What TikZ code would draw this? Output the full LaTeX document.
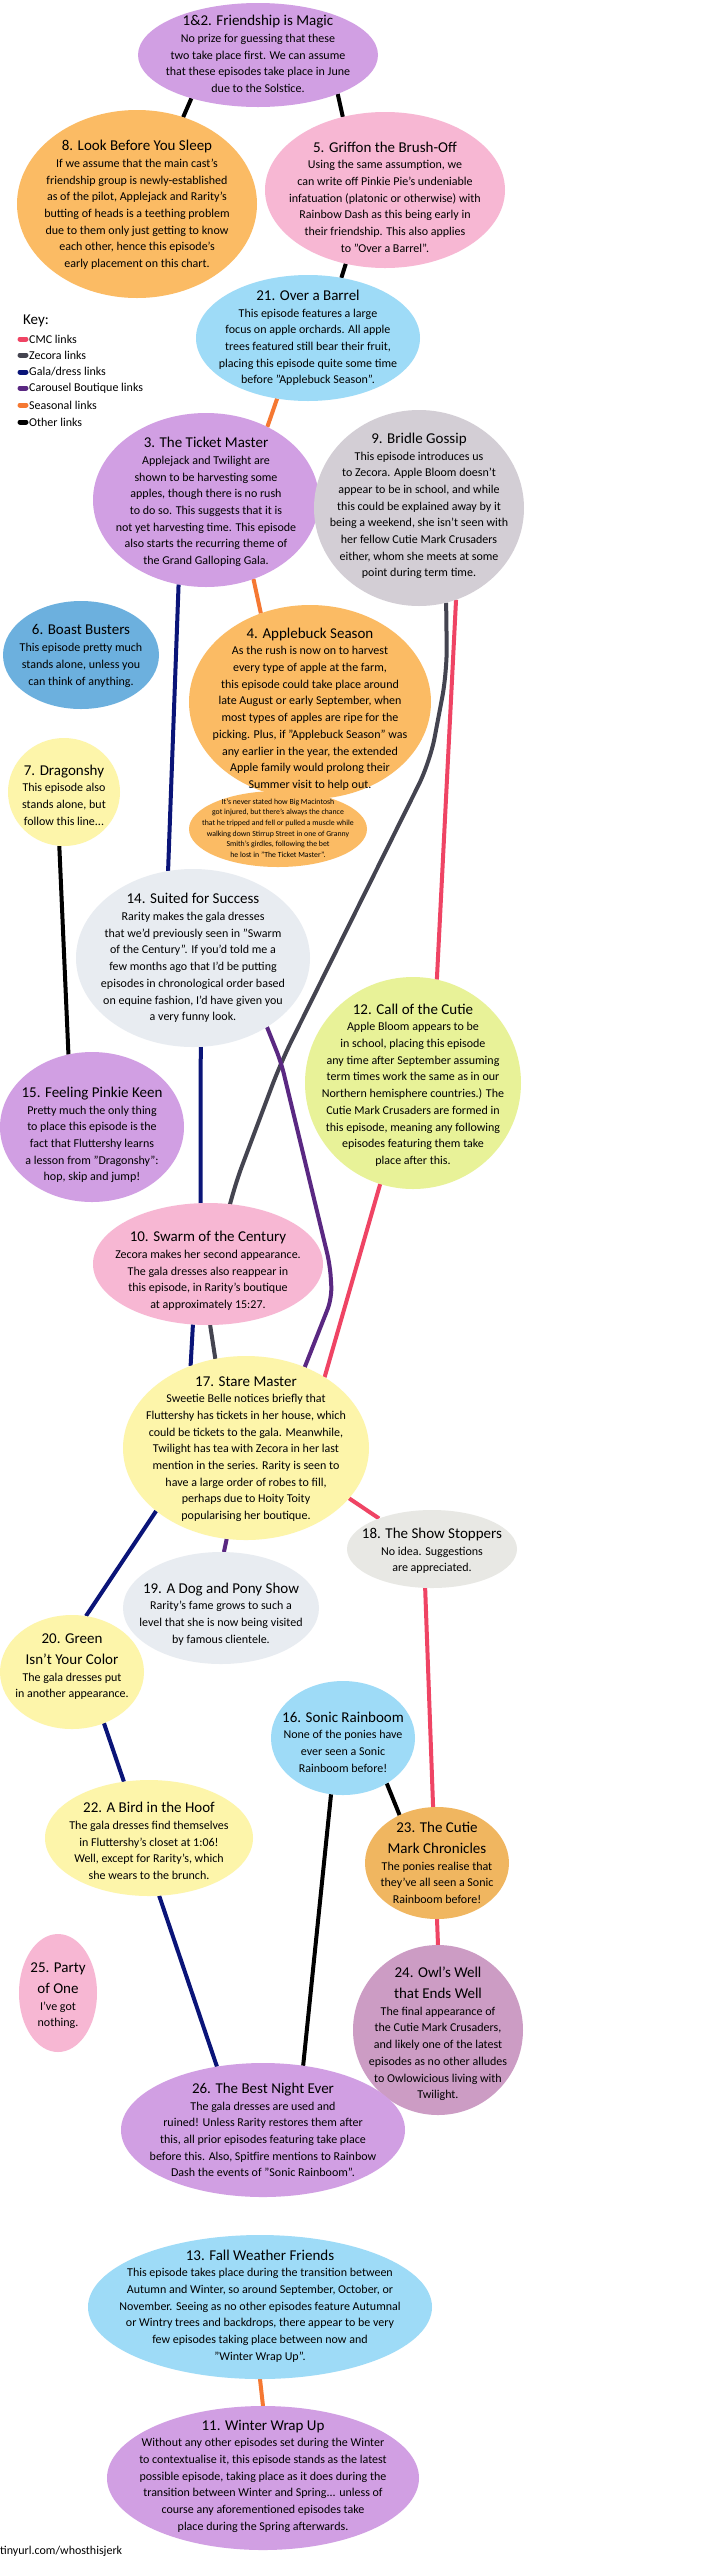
\documentclass[tikz,border=0pt]{standalone}
\usepackage{fontspec}
\setmainfont{Carlito}
\usetikzlibrary{shapes.geometric,backgrounds}

\definecolor{lilac}{HTML}{D19FE3}
\definecolor{peach}{HTML}{FBBB64}
\definecolor{candy}{HTML}{F7B7D3}
\definecolor{sky}{HTML}{9EDBF7}
\definecolor{smoke}{HTML}{D3CED5}
\definecolor{denim}{HTML}{6CB0DE}
\definecolor{butter}{HTML}{FDF5AA}
\definecolor{silver}{HTML}{E8ECF1}
\definecolor{lime}{HTML}{E8F298}
\definecolor{ash}{HTML}{E8E8E4}
\definecolor{amber}{HTML}{F0B660}
\definecolor{mauve}{HTML}{CC9CC4}
\definecolor{cmcred}{HTML}{EF4464}
\definecolor{zecgray}{HTML}{444450}
\definecolor{galablue}{HTML}{0A1478}
\definecolor{shoppurple}{HTML}{5A2882}
\definecolor{seasonorange}{HTML}{F57832}

\tikzset{
  bubble/.style={ellipse, inner sep=0pt, outer sep=0pt},
  words/.style={align=center, inner sep=0pt, font=\fontsize{12}{16.7}\selectfont},
  aside/.style={align=center, inner sep=0pt, font=\fontsize{7.8}{10.6}\selectfont},
  keyword/.style={anchor=west, inner sep=0pt, font=\fontsize{12}{14}\selectfont},
  link/.style={line width=4pt},
  cmc/.style={link, draw=cmcred},
  zec/.style={link, draw=zecgray},
  gala/.style={link, draw=galablue},
  shop/.style={link, draw=shoppurple},
  season/.style={link, draw=seasonorange},
  other/.style={link, draw=black},
  swatch/.style={line width=5pt, line cap=round},
}
\newcommand{\ttl}[1]{{\fontsize{15}{20}\selectfont #1}}

\begin{document}
\begin{tikzpicture}[x=1pt,y=-1pt]
\useasboundingbox (0,0) rectangle (720,2560);

% episode bubbles
\node[bubble, fill=lilac, minimum width=240pt, minimum height=104pt] (magic) at (258,55) {};
\node[words] (tmagic) at (258,54) {\ttl{1\&2. Friendship is Magic}\\No prize for guessing that these\\two take place first. We can assume\\that these episodes take place in June\\due to the Solstice.};

\node[bubble, fill=peach, minimum width=240pt, minimum height=188pt] (sleep) at (137,204) {};
\node[words] (tsleep) at (137,205) {\ttl{8. Look Before You Sleep}\\If we assume that the main cast's\\friendship group is newly-established\\as of the pilot, Applejack and Rarity's\\butting of heads is a teething problem\\due to them only just getting to know\\each other, hence this episode's\\early placement on this chart.};

\node[bubble, fill=candy, minimum width=240pt, minimum height=156pt] (griffon) at (385,190) {};
\node[words] (tgriffon) at (385,197) {\ttl{5. Griffon the Brush-Off}\\Using the same assumption, we\\can write off Pinkie Pie's undeniable\\infatuation (platonic or otherwise) with\\Rainbow Dash as this being early in\\their friendship. This also applies\\to "Over a Barrel".};

\node[bubble, fill=sky, minimum width=224pt, minimum height=126pt] (barrel) at (308,338) {};
\node[words] (tbarrel) at (308,338) {\ttl{21. Over a Barrel}\\This episode features a large\\focus on apple orchards. All apple\\trees featured still bear their fruit,\\placing this episode quite some time\\before "Applebuck Season".};

\node[bubble, fill=lilac, minimum width=226pt, minimum height=174pt] (ticket) at (206,500) {};
\node[words] (tticket) at (206,502) {\ttl{3. The Ticket Master}\\Applejack and Twilight are\\shown to be harvesting some\\apples, though there is no rush\\to do so. This suggests that it is\\not yet harvesting time. This episode\\also starts the recurring theme of\\the Grand Galloping Gala.};

\node[bubble, fill=smoke, minimum width=210pt, minimum height=196pt] (gossip) at (419,508) {};
\node[words] (tgossip) at (419,506) {\ttl{9. Bridle Gossip}\\This episode introduces us\\to Zecora. Apple Bloom doesn't\\appear to be in school, and while\\this could be explained away by it\\being a weekend, she isn't seen with\\her fellow Cutie Mark Crusaders\\either, whom she meets at some\\point during term time.};

\node[bubble, fill=denim, minimum width=156pt, minimum height=108pt] (boast) at (81,655) {};
\node[words] (tboast) at (81,656) {\ttl{6. Boast Busters}\\This episode pretty much\\stands alone, unless you\\can think of anything.};

\node[bubble, fill=peach, minimum width=242pt, minimum height=194pt] (applebuck) at (310,702) {};
\node[bubble, fill=peach, minimum width=178pt, minimum height=76pt] (macintosh) at (278,829) {};
\node[words] (tapplebuck) at (310,709) {\ttl{4. Applebuck Season}\\As the rush is now on to harvest\\every type of apple at the farm,\\this episode could take place around\\late August or early September, when\\most types of apples are ripe for the\\picking. Plus, if "Applebuck Season" was\\any earlier in the year, the extended\\Apple family would prolong their\\Summer visit to help out.};
\node[aside] (tmacintosh) at (278,828) {It's never stated how Big Macintosh\\got injured, but there's always the chance\\that he tripped and fell or pulled a muscle while\\walking down Stirrup Street in one of Granny\\Smith's girdles, following the bet\\he lost in "The Ticket Master".};

\node[bubble, fill=butter, minimum width=112pt, minimum height=108pt] (dragonshy) at (64,792) {};
\node[words] (tdragonshy) at (64,795) {\ttl{7. Dragonshy}\\This episode also\\stands alone, but\\follow this line...};

\node[bubble, fill=silver, minimum width=234pt, minimum height=178pt] (suited) at (193,958) {};
\node[words] (tsuited) at (193,958) {\ttl{14. Suited for Success}\\Rarity makes the gala dresses\\that we'd previously seen in "Swarm\\of the Century". If you'd told me a\\few months ago that I'd be putting\\episodes in chronological order based\\on equine fashion, I'd have given you\\a very funny look.};

\node[bubble, fill=lime, minimum width=216pt, minimum height=212pt] (cutie) at (413,1083) {};
\node[words] (tcutie) at (413,1085) {\ttl{12. Call of the Cutie}\\Apple Bloom appears to be\\in school, placing this episode\\any time after September assuming\\term times work the same as in our\\Northern hemisphere countries.) The\\Cutie Mark Crusaders are formed in\\this episode, meaning any following\\episodes featuring them take\\place after this.};

\node[bubble, fill=lilac, minimum width=184pt, minimum height=150pt] (pinkie) at (92,1127) {};
\node[words] (tpinkie) at (92,1135) {\ttl{15. Feeling Pinkie Keen}\\Pretty much the only thing\\to place this episode is the\\fact that Fluttershy learns\\a lesson from "Dragonshy":\\hop, skip and jump!};

\node[bubble, fill=candy, minimum width=230pt, minimum height=122pt] (swarm) at (208,1264) {};
\node[words] (tswarm) at (208,1271) {\ttl{10. Swarm of the Century}\\Zecora makes her second appearance.\\The gala dresses also reappear in\\this episode, in Rarity's boutique\\at approximately 15:27.};

\node[bubble, fill=butter, minimum width=246pt, minimum height=184pt] (stare) at (246,1448) {};
\node[words] (tstare) at (246,1449) {\ttl{17. Stare Master}\\Sweetie Belle notices briefly that\\Fluttershy has tickets in her house, which\\could be tickets to the gala. Meanwhile,\\Twilight has tea with Zecora in her last\\mention in the series. Rarity is seen to\\have a large order of robes to fill,\\perhaps due to Hoity Toity\\popularising her boutique.};

\node[bubble, fill=ash, minimum width=170pt, minimum height=78pt] (show) at (432,1549) {};
\node[words] (tshow) at (432,1551) {\ttl{18. The Show Stoppers}\\No idea. Suggestions\\are appreciated.};

\node[bubble, fill=silver, minimum width=196pt, minimum height=112pt] (dogpony) at (221,1608) {};
\node[words] (tdogpony) at (221,1614) {\ttl{19. A Dog and Pony Show}\\Rarity's fame grows to such a\\level that she is now being visited\\by famous clientele.};

\node[bubble, fill=butter, minimum width=144pt, minimum height=114pt] (green) at (72,1672) {};
\node[words] (tgreen) at (72,1667) {\ttl{20. Green}\\[4pt]\ttl{Isn't Your Color}\\The gala dresses put\\in another appearance.};

\node[bubble, fill=sky, minimum width=144pt, minimum height=114pt] (sonic) at (343,1738) {};
\node[words] (tsonic) at (343,1742) {\ttl{16. Sonic Rainboom}\\None of the ponies have\\ever seen a Sonic\\Rainboom before!};

\node[bubble, fill=butter, minimum width=208pt, minimum height=116pt] (bird) at (149,1838) {};
\node[words] (tbird) at (149,1841) {\ttl{22. A Bird in the Hoof}\\The gala dresses find themselves\\in Fluttershy's closet at 1:06!\\Well, except for Rarity's, which\\she wears to the brunch.};

\node[bubble, fill=amber, minimum width=144pt, minimum height=112pt] (chronicles) at (437,1863) {};
\node[words] (tchronicles) at (437,1863) {\ttl{23. The Cutie}\\[4pt]\ttl{Mark Chronicles}\\The ponies realise that\\they've all seen a Sonic\\Rainboom before!};

\node[bubble, fill=candy, minimum width=78pt, minimum height=118pt] (party) at (58,1993) {};
\node[words] (tparty) at (58,1996) {\ttl{25. Party}\\[4pt]\ttl{of One}\\I've got\\nothing.};

\node[bubble, fill=mauve, minimum width=170pt, minimum height=170pt] (owl) at (438,2030) {};
\node[words] (towl) at (438,2034) {\ttl{24. Owl's Well}\\[4pt]\ttl{that Ends Well}\\The final appearance of\\the Cutie Mark Crusaders,\\and likely one of the latest\\episodes as no other alludes\\to Owlowicious living with\\Twilight.};

\node[bubble, fill=lilac, minimum width=284pt, minimum height=134pt] (bestnight) at (263,2130) {};
\node[words] (tbestnight) at (263,2130) {\ttl{26. The Best Night Ever}\\The gala dresses are used and\\ruined! Unless Rarity restores them after\\this, all prior episodes featuring take place\\before this. Also, Spitfire mentions to Rainbow\\Dash the events of "Sonic Rainboom".};

\node[bubble, fill=sky, minimum width=344pt, minimum height=144pt] (fall) at (260,2307) {};
\node[words] (tfall) at (260,2306) {\ttl{13. Fall Weather Friends}\\This episode takes place during the transition between\\Autumn and Winter, so around September, October, or\\November. Seeing as no other episodes feature Autumnal\\or Wintry trees and backdrops, there appear to be very\\few episodes taking place between now and\\"Winter Wrap Up".};

\node[bubble, fill=lilac, minimum width=312pt, minimum height=144pt] (winter) at (263,2478) {};
\node[words] (twinter) at (263,2476) {\ttl{11. Winter Wrap Up}\\Without any other episodes set during the Winter\\to contextualise it, this episode stands as the latest\\possible episode, taking place as it does during the\\transition between Winter and Spring... unless of\\course any aforementioned episodes take\\place during the Spring afterwards.};

% key
\node[anchor=west, inner sep=0pt, font=\fontsize{15}{18}\selectfont] (key) at (23,321) {Key:};
\node[keyword] (kcmc) at (29,339) {CMC links};
\node[keyword] (kzec) at (29,355) {Zecora links};
\node[keyword] (kgala) at (29,372) {Gala/dress links};
\node[keyword] (kshop) at (29,388) {Carousel Boutique links};
\node[keyword] (kseason) at (29,405) {Seasonal links};
\node[keyword] (kother) at (29,422) {Other links};
\draw[swatch, cmcred] ([xshift=-9pt]kcmc.west) -- ([xshift=-3pt]kcmc.west);
\draw[swatch, zecgray] ([xshift=-9pt]kzec.west) -- ([xshift=-3pt]kzec.west);
\draw[swatch, galablue] ([xshift=-9pt]kgala.west) -- ([xshift=-3pt]kgala.west);
\draw[swatch, shoppurple] ([xshift=-9pt]kshop.west) -- ([xshift=-3pt]kshop.west);
\draw[swatch, seasonorange] ([xshift=-9pt]kseason.west) -- ([xshift=-3pt]kseason.west);
\draw[swatch, black] ([xshift=-9pt]kother.west) -- ([xshift=-3pt]kother.west);

\node[anchor=west, inner sep=0pt, font=\fontsize{12}{14}\selectfont] (url) at (0,2551) {tinyurl.com/whosthisjerk};

\coordinate (fork) at (281,1062);

% links go under the bubbles
\begin{pgfonlayer}{background}
\fill[white] (0,0) rectangle (720,2560);
\draw[other] (magic.213) -- (sleep.62);
\draw[other] (magic.334) -- (griffon.120);
\draw[other] (griffon.242) -- (barrel.61);
\draw[season] (barrel.243) -- (ticket.50);
\draw[season] (ticket.301) -- (applebuck.119);
\draw[gala] (ticket.252) -- (suited.106);
\draw[zec, rounded corners=25pt] (gossip.286) -- (447,672) -- (430,762) -- (fork) -- (233,1190) -- (swarm.70);
\draw[cmc] (gossip.292) -- (cutie.77);
\draw[shop, rounded corners=12pt] (suited.317) -- (fork) -- (330,1265) -- (332,1298) -- (stare.54);
\draw[other] (dragonshy.265) -- (pinkie.108);
\draw[gala] (suited.275) -- (swarm.97);
\draw[cmc] (cutie.252) -- (stare.42);
\draw[gala] (swarm.256) -- (stare.124);
\draw[zec] (swarm.272) -- (stare.109);
\draw[gala] (stare.215) -- (green.76);
\draw[shop] (stare.258) -- (dogpony.87);
\draw[cmc] (stare.334) -- (show.150);
\draw[cmc] (show.260) -- (chronicles.94);
\draw[other] (sonic.314) -- (chronicles.128);
\draw[other] (sonic.258) -- (bestnight.58);
\draw[gala] (green.302) -- (bird.114);
\draw[gala] (bird.280) -- (bestnight.126);
\draw[cmc] (chronicles.270) -- (owl.90);
\draw[season] (fall.south) -- (winter.north);
\end{pgfonlayer}
\end{tikzpicture}
\end{document}
